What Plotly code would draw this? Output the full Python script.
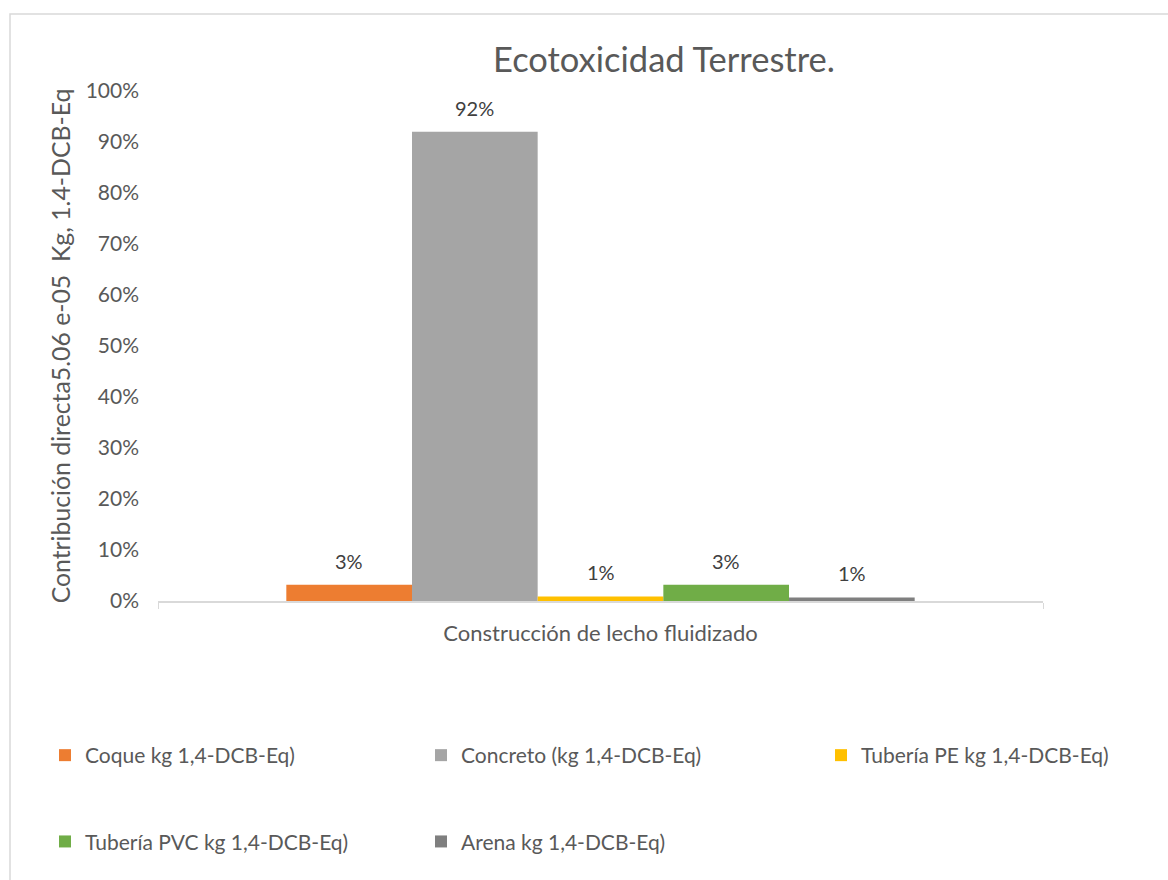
import plotly.graph_objects as go

# Data: direct contribution share per material
categoria = ["Construcción de lecho fluidizado"]
series = [
    "Coque kg 1,4-DCB-Eq)",
    "Concreto (kg 1,4-DCB-Eq)",
    "Tubería PE kg 1,4-DCB-Eq)",
    "Tubería PVC kg 1,4-DCB-Eq)",
    "Arena kg 1,4-DCB-Eq)",
]
valores = [0.032, 0.920, 0.009, 0.032, 0.007]
colores = ["#ED7D31", "#A5A5A5", "#FFC000", "#70AD47", "#7F7F7F"]
y_ticks = [0, 0.1, 0.2, 0.3, 0.4, 0.5, 0.6, 0.7, 0.8, 0.9, 1.0]

# legend column for each series (3 columns, 2 rows)
columna_leyenda = ["legend", "legend2", "legend3", "legend", "legend2"]

FONT = "Lato"
GRIS_TXT = "#595959"
W, H = 1168, 880
ML, MR, MT, MB = 158, 125, 91, 279
BARGAP = 0.29

fig = go.Figure()
for i, (nombre, v, c) in enumerate(zip(series, valores, colores)):
    fig.add_trace(go.Bar(
        x=categoria, y=[v], name=nombre, marker_color=c,
        marker_line_width=0,
        legend=columna_leyenda[i], legendgroup=f"g{i}",
        hovertemplate="%{y:.0%}<extra>" + nombre + "</extra>",
    ))

# value labels above each bar, aligned with the grouped bar centres
n = len(valores)
ancho = (1 - BARGAP) / n
for i, v in enumerate(valores):
    xc = -0.5 + BARGAP / 2 + (i + 0.5) * ancho
    fig.add_annotation(
        x=xc, y=v, xref="x", yref="y", text=f"{v:.0%}", showarrow=False,
        yanchor="middle", yshift=24,
        font=dict(family=FONT, size=20, color="#404040"),
    )

# chart border
pw, ph = W - ML - MR, H - MT - MB
fig.add_shape(
    type="rect", xref="paper", yref="paper",
    x0=(10 - ML) / pw, x1=(W + 4 - ML) / pw,
    y0=(H - MB - (H + 4)) / ph, y1=(H - MB - 14) / ph,
    line=dict(color="#D9D9D9", width=1.5), fillcolor="rgba(0,0,0,0)",
    layer="below",
)


def leyenda(px_x, px_top):
    return dict(
        orientation="v", xanchor="left", yanchor="top",
        x=(px_x - ML) / pw, y=(H - MB - px_top) / ph,
        font=dict(family=FONT, size=21, color=GRIS_TXT),
        bgcolor="rgba(0,0,0,0)", itemwidth=30, tracegroupgap=56,
        traceorder="grouped",
    )


fig.update_layout(
    width=W, height=H,
    margin=dict(l=ML, r=MR, t=MT, b=MB),
    paper_bgcolor="white", plot_bgcolor="white",
    barmode="group", bargap=BARGAP, bargroupgap=0,
    title=dict(
        text="Ecotoxicidad Terrestre.", x=664 / W, xref="container",
        xanchor="center", y=1 - 60 / H, yref="container", yanchor="middle",
        font=dict(family=FONT, size=34.5, color=GRIS_TXT),
    ),
    font=dict(family=FONT, color=GRIS_TXT),
    legend=leyenda(45, 735),
    legend2=leyenda(421, 735),
    legend3=leyenda(821, 735),
    xaxis=dict(
        range=[-0.5, 0.5], showline=True, linecolor="#D9D9D9", linewidth=1.5,
        ticks="outside", tickson="boundaries", ticklen=6, tickcolor="#D9D9D9",
        tickfont=dict(family=FONT, size=22, color=GRIS_TXT),
        ticklabelstandoff=12, showgrid=False, zeroline=False,
    ),
    yaxis=dict(
        range=[0, 1], tickvals=y_ticks, tickformat=".0%",
        showgrid=False, zeroline=False, showline=False,
        tickfont=dict(family=FONT, size=21, color=GRIS_TXT),
        ticklabelstandoff=18,
        title=dict(text="Contribución directa5.06 e-05  Kg, 1.4-DCB-Eq",
                   font=dict(family=FONT, size=24.8, color=GRIS_TXT), standoff=7),
    ),
)

fig.write_html("out.html")
